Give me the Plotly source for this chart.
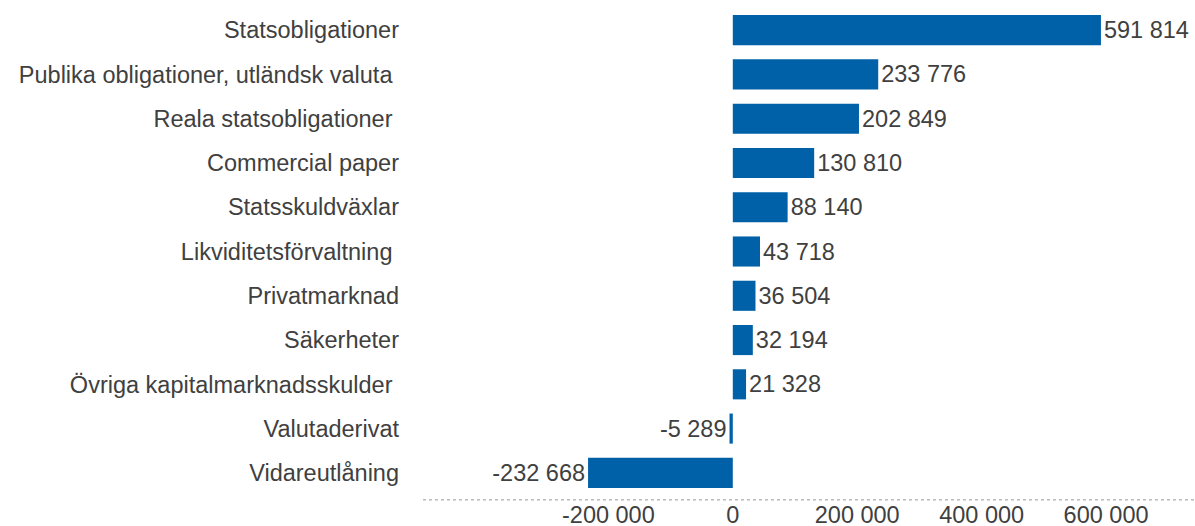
import plotly.graph_objects as go

categories = [
    "Statsobligationer",
    "Publika obligationer, utländsk valuta ",
    "Reala statsobligationer ",
    "Commercial paper",
    "Statsskuldväxlar",
    "Likviditetsförvaltning ",
    "Privatmarknad",
    "Säkerheter",
    "Övriga kapitalmarknadsskulder ",
    "Valutaderivat",
    "Vidareutlåning",
]
values = [591814, 233776, 202849, 130810, 88140, 43718, 36504, 32194, 21328, -5289, -232668]
tick_vals = [-200000, 0, 200000, 400000, 600000]


def fmt(v):
    s = f"{abs(v):,}".replace(",", " ")
    return ("-" if v < 0 else "") + s


labels = [fmt(v) for v in values]
tick_text = [fmt(v) for v in tick_vals]

font_family = "Liberation Sans, Arial, sans-serif"
text_color = "#404040"
fs = 23.5

fig = go.Figure(
    go.Bar(
        x=values,
        y=categories,
        orientation="h",
        marker=dict(color="#0061A8", line=dict(width=0)),
        text=labels,
        textposition="outside",
        textfont=dict(size=fs, color=text_color, family=font_family),
        cliponaxis=False,
        width=0.68,
    )
)

fig.add_shape(
    type="line", xref="paper", yref="paper", x0=0, x1=1, y0=-0.01, y1=-0.01,
    line=dict(color="#9a9a9a", width=1, dash="dot"),
)

fig.update_layout(
    width=1195,
    height=526,
    margin=dict(l=423, r=0, t=8, b=31, autoexpand=False),
    plot_bgcolor="white",
    paper_bgcolor="white",
    showlegend=False,
    font=dict(family=font_family, size=fs, color=text_color),
    xaxis=dict(
        range=[-498000, 743000],
        tickvals=tick_vals,
        ticktext=tick_text,
        showgrid=False,
        zeroline=False,
        showline=False,
        ticks="",
        automargin=False,
        ticklabelstandoff=3,
        tickfont=dict(size=fs, color=text_color),
    ),
    yaxis=dict(
        categoryorder="array",
        categoryarray=categories[::-1],
        showgrid=False,
        zeroline=False,
        showline=False,
        ticks="",
        automargin=False,
        ticklabelstandoff=23,
        tickfont=dict(size=fs, color=text_color),
    ),
)

fig.write_html(
    "out.html",
    config={"displayModeBar": False},
    post_script="document.body.style.margin='0';document.body.style.overflow='hidden';",
)
